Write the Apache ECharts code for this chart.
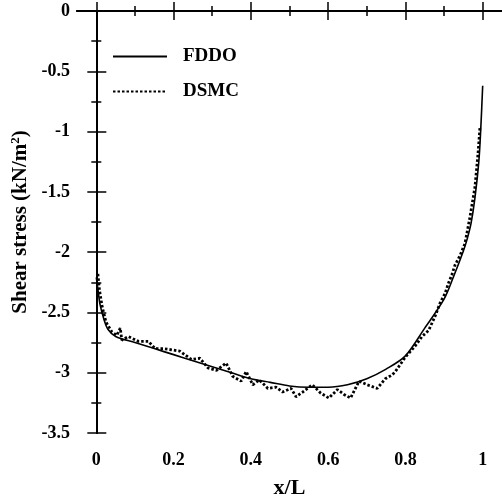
<!DOCTYPE html>
<html>
<head>
<meta charset="utf-8">
<script src="https://cdn.jsdelivr.net/npm/echarts@6/dist/echarts.min.js"></script>
<style>html,body{margin:0;padding:0;background:#fff}#c{width:502px;height:499px}</style>
</head>
<body>
<div id="c"></div>
<script>
// ---- data ----
const fddoX = [0, 0.005, 0.01, 0.02, 0.03, 0.05, 0.1, 0.15, 0.2, 0.25, 0.3, 0.35, 0.4, 0.45, 0.5, 0.55, 0.6, 0.65, 0.7, 0.75, 0.8, 0.85, 0.9, 0.925, 0.95, 0.96, 0.97, 0.98, 0.99, 0.995, 1.0];
const fddoY = [-2.21, -2.33, -2.44, -2.56, -2.64, -2.70, -2.75, -2.80, -2.85, -2.90, -2.95, -3.00, -3.05, -3.08, -3.11, -3.12, -3.12, -3.10, -3.05, -2.97, -2.86, -2.63, -2.39, -2.20, -1.99, -1.89, -1.76, -1.55, -1.25, -0.98, -0.62];
const dsmcX = [0.004, 0.008, 0.015, 0.025, 0.04, 0.053, 0.062, 0.066, 0.083, 0.109, 0.135, 0.152, 0.173, 0.216, 0.246, 0.268, 0.289, 0.311, 0.336, 0.353, 0.375, 0.388, 0.405, 0.422, 0.444, 0.465, 0.482, 0.504, 0.517, 0.534, 0.559, 0.581, 0.602, 0.624, 0.641, 0.658, 0.680, 0.701, 0.727, 0.748, 0.765, 0.774, 0.80, 0.825, 0.843, 0.86, 0.877, 0.89, 0.903, 0.911, 0.92, 0.928, 0.941, 0.954, 0.967, 0.980, 0.988, 0.993];
const dsmcY = [-2.18, -2.31, -2.45, -2.58, -2.66, -2.69, -2.63, -2.73, -2.70, -2.74, -2.74, -2.80, -2.80, -2.82, -2.89, -2.88, -2.96, -2.98, -2.92, -3.03, -3.07, -2.99, -3.10, -3.06, -3.13, -3.12, -3.16, -3.13, -3.20, -3.16, -3.10, -3.17, -3.21, -3.14, -3.18, -3.21, -3.07, -3.10, -3.13, -3.05, -3.02, -2.99, -2.87, -2.78, -2.70, -2.65, -2.53, -2.42, -2.34, -2.26, -2.19, -2.11, -2.03, -1.93, -1.71, -1.46, -1.18, -0.96];
const xMajorTicks = [0, 0.2, 0.4, 0.6, 0.8, 1];
const xMinorTicks = [0.1, 0.3, 0.5, 0.7, 0.9];
const seriesNames = ['FDDO', 'DSMC'];

const FONT = 'Liberation Serif';
const pair = (xs, ys) => xs.map((x, i) => [x, ys[i]]);
const axLine = {show: true, lineStyle: {color: '#000', width: 2}};
const tickStyle = {color: '#000', width: 1.5};

function xAx(pos, ticks, len, showLabel, showLine, extra) {
  return Object.assign({
    type: 'value', position: pos, min: -0.05, max: 1.05,
    axisLine: showLine ? axLine : {show: false},
    axisTick: {show: true, inside: true, length: len, customValues: ticks, lineStyle: tickStyle},
    axisLabel: showLabel ? {show: true, customValues: ticks, margin: 18, color: '#000',
      fontFamily: FONT, fontWeight: 'bold', fontSize: 18} : {show: false},
    splitLine: {show: false}
  }, extra || {});
}

const chart = echarts.init(document.getElementById('c'), null, {renderer: 'canvas'});
chart.setOption({
  animation: false,
  backgroundColor: '#fff',
  grid: {left: 77, right: 0, top: 11, bottom: 66, containLabel: false, outerBoundsMode: 'none'},
  legend: {
    orient: 'vertical', left: 112, top: 47, padding: 0,
    itemWidth: 54, itemHeight: 14, itemGap: 16,
    data: seriesNames,
    itemStyle: {opacity: 0},
    textStyle: {color: '#000', fontFamily: FONT, fontWeight: 'bold', fontSize: 19, padding: [0, 0, 0, 11]}
  },
  xAxis: [
    xAx('bottom', xMajorTicks, 9, true, true, {
      name: 'x/L', nameLocation: 'middle', nameGap: 44,
      nameTextStyle: {color: '#000', fontFamily: FONT, fontWeight: 'bold', fontSize: 22}
    }),
    xAx('bottom', xMinorTicks, 5, false, false),
    xAx('top', xMajorTicks, 9, false, true),
    xAx('top', xMinorTicks, 5, false, false)
  ],
  yAxis: [
    {
      type: 'value', position: 'left', min: -3.5, max: 0, interval: 0.5,
      axisLine: axLine,
      axisTick: {show: true, inside: true, length: 10, lineStyle: tickStyle},
      minorTick: {show: true, splitNumber: 2, length: 5, lineStyle: tickStyle},
      axisLabel: {color: '#000', fontFamily: FONT, fontWeight: 'bold', fontSize: 18, margin: 7},
      splitLine: {show: false},
      name: '{a|Shear stress (kN/m}{s|2}{a|)}', nameLocation: 'middle', nameGap: 41, nameRotate: 90,
      nameTextStyle: {rich: {
        a: {color: '#000', fontFamily: FONT, fontWeight: 'bold', fontSize: 21},
        s: {color: '#000', fontFamily: FONT, fontWeight: 'bold', fontSize: 13, verticalAlign: 'top', padding: [0, 0, 8, 0]}
      }}
    },
    {
      type: 'value', position: 'right', min: -3.5, max: 0, interval: 0.5,
      axisLine: axLine,
      axisTick: {show: true, inside: true, length: 9, lineStyle: tickStyle},
      minorTick: {show: true, splitNumber: 2, length: 5, lineStyle: tickStyle},
      axisLabel: {show: false},
      splitLine: {show: false}
    }
  ],
  series: [
    {
      name: seriesNames[0], type: 'line', xAxisIndex: 0, yAxisIndex: 0,
      data: pair(fddoX, fddoY), symbol: 'none', smooth: 0.3,
      lineStyle: {color: '#000', width: 1.6, type: 'solid'},
      itemStyle: {color: '#000'}
    },
    {
      name: seriesNames[1], type: 'line', xAxisIndex: 0, yAxisIndex: 0,
      data: pair(dsmcX, dsmcY), symbol: 'none',
      lineStyle: {color: '#000', width: 2.8, type: [2.5, 2]},
      itemStyle: {color: '#000'}
    }
  ]
});
</script>
</body>
</html>
